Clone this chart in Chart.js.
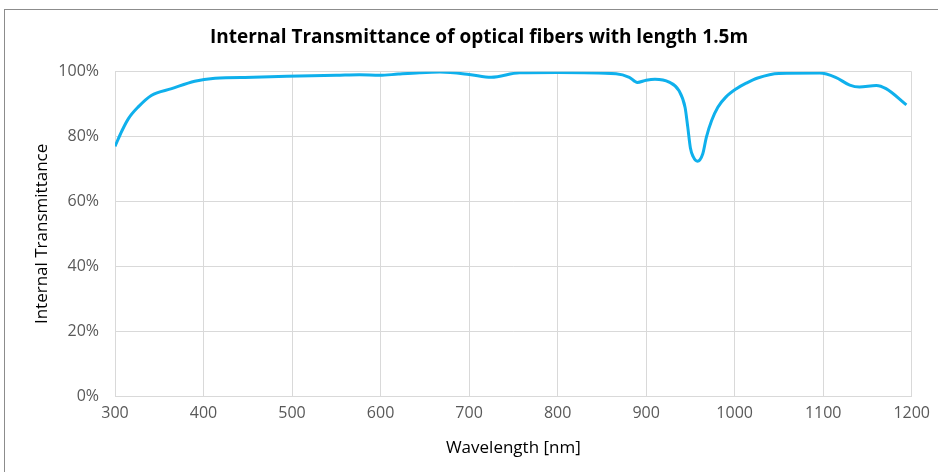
<!DOCTYPE html>
<html>
<head>
<meta charset="utf-8">
<script src="https://cdn.jsdelivr.net/npm/chart.js@4"></script>
<style>
  html, body { margin: 0; padding: 0; background: #fff; }
  #wrap { position: relative; width: 938px; height: 472px; }
  #frame { position: absolute; left: 4px; top: 9px; right: -2px; bottom: -2px; border: 1px solid #8c8c8c; }
  canvas { position: absolute; left: 0; top: 0; }
</style>
</head>
<body>
<div id="wrap">
  <div id="frame"></div>
  <canvas id="chart" width="938" height="472"></canvas>
</div>
<script>
// 데이터
const wavelengths = [300, 308, 315, 326, 341, 364, 390, 413, 456, 494, 550, 576, 599, 620, 644, 667, 700, 725, 757, 800, 866, 881, 890, 900, 910, 926, 937, 944, 947, 950, 953, 958, 964, 968, 974, 981, 990, 1002, 1013, 1026, 1050, 1096, 1114, 1130, 1141, 1160, 1171, 1194];
const transmittance = [77, 81.9, 85.5, 89.1, 92.7, 94.8, 97.1, 98.0, 98.3, 98.6, 98.9, 99.1, 98.9, 99.3, 99.7, 99.9, 99.2, 98.3, 99.7, 99.8, 99.4, 98.3, 96.7, 97.4, 97.7, 96.8, 94.2, 89, 83, 76.5, 73.9, 72.4, 74.7, 79.8, 85, 89.1, 92.2, 94.8, 96.5, 98.1, 99.5, 99.6, 98.3, 95.9, 95.3, 95.8, 94.8, 89.8];
const xTicks = [300, 400, 500, 600, 700, 800, 900, 1000, 1100, 1200];
const yTicks = [0, 20, 40, 60, 80, 100];

const TEXT_FONT = "'Open Sans', 'Noto Sans', sans-serif";
const tickColor = "#595959";
const gridColor = "#d9d9d9";

new Chart(document.getElementById("chart"), {
  type: "line",
  data: {
    datasets: [{
      data: wavelengths.map((w, i) => ({ x: w, y: transmittance[i] })),
      borderColor: "#0fb0ec",
      borderWidth: 3,
      pointRadius: 0,
      cubicInterpolationMode: "monotone",
      fill: false
    }]
  },
  options: {
    responsive: false,
    animation: false,
    layout: { padding: { left: 20, right: 0, top: 0, bottom: 0 } },
    plugins: {
      legend: { display: false },
      tooltip: { enabled: false },
      title: {
        display: true,
        text: "Internal Transmittance of optical fibers with length 1.5m",
        color: "#000",
        font: { family: TEXT_FONT, size: 19, weight: "bold" },
        padding: { top: 26, bottom: 23 }
      }
    },
    scales: {
      x: {
        type: "linear",
        min: 300,
        max: 1200,
        afterBuildTicks: s => { s.ticks = xTicks.map(v => ({ value: v })); },
        afterFit: s => { s.height = 76; },
        grid: { color: gridColor, drawTicks: false },
        border: { color: gridColor },
        ticks: {
          color: tickColor,
          padding: 8,
          font: { family: TEXT_FONT, size: 16 },
          callback: v => String(v)
        },
        title: {
          display: true,
          text: "Wavelength [nm]",
          color: "#000",
          font: { family: TEXT_FONT, size: 17 },
          padding: { top: 0, bottom: 14 }
        }
      },
      y: {
        min: 0,
        max: 100,
        afterBuildTicks: s => { s.ticks = yTicks.map(v => ({ value: v })); },
        afterFit: s => { s.width = 95; },
        grid: { color: gridColor, drawTicks: false },
        border: { color: gridColor },
        ticks: {
          color: tickColor,
          padding: 16,
          font: { family: TEXT_FONT, size: 16 },
          callback: v => v + "%"
        },
        title: {
          display: true,
          text: "Internal Transmittance",
          color: "#000",
          font: { family: TEXT_FONT, size: 17 },
          padding: { top: 12, bottom: 0 }
        }
      },
      // 오른쪽 여백용 빈 축
      y2: {
        position: "right",
        min: 0,
        max: 100,
        afterFit: s => { s.width = 26; },
        grid: { display: false },
        border: { display: false },
        ticks: { display: false }
      }
    }
  }
});
</script>
</body>
</html>
